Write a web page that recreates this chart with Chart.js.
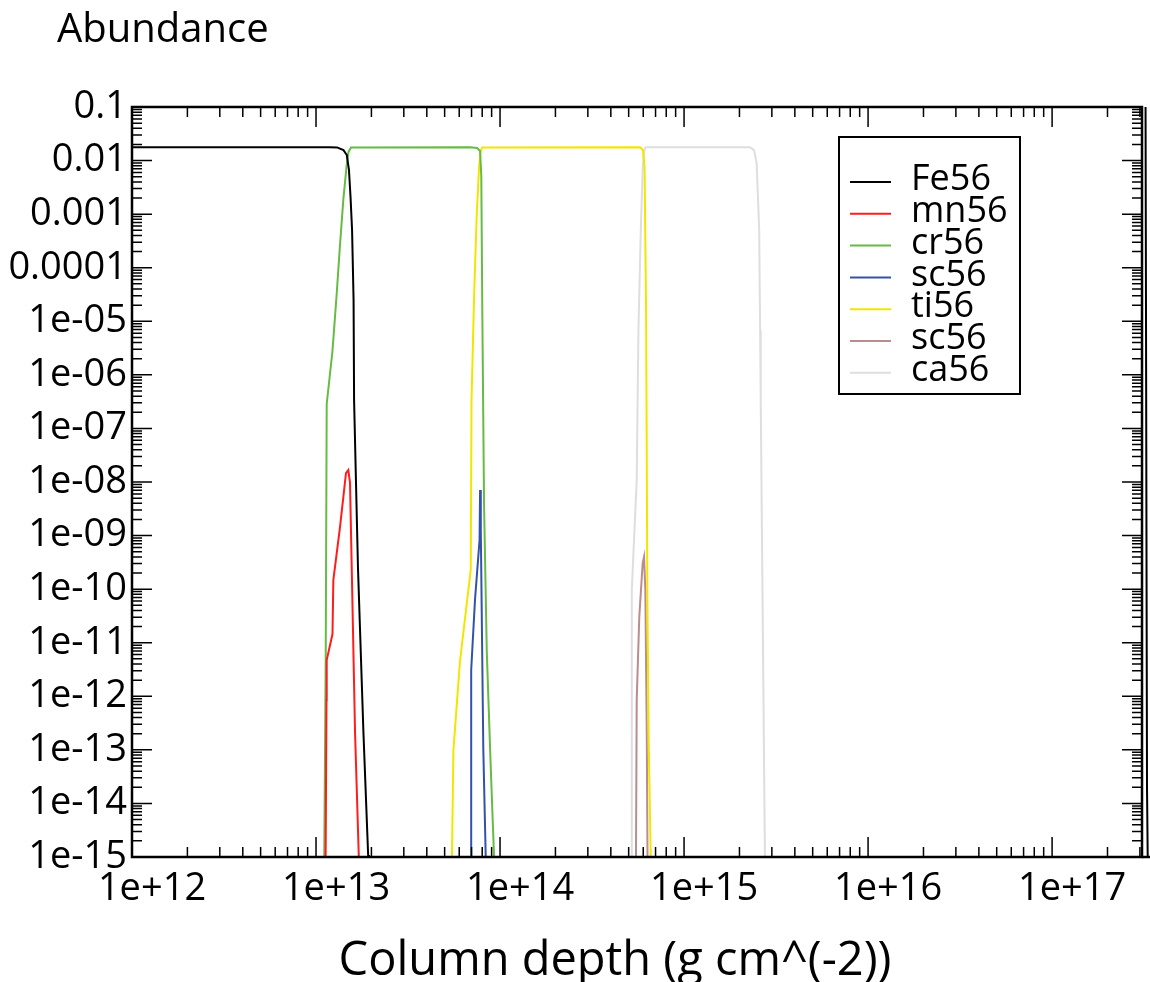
<!DOCTYPE html>
<html>
<head>
<meta charset="utf-8">
<script src="https://cdn.jsdelivr.net/npm/chart.js@4.4.1/dist/chart.umd.min.js"></script>
<style>
  html, body { margin: 0; padding: 0; background: #fff; }
  #wrap { width: 1150px; height: 982px; }
</style>
</head>
<body>
<div id="wrap"><canvas id="abundance" width="1150" height="982"></canvas></div>
<script>
// column depth (g cm^-2) and abundance
const fe56Depth = [1e12, 1.19e13, 1.30e13, 1.41e13, 1.47e13, 1.51e13, 1.54e13, 1.57e13, 1.60e13, 1.61e13, 1.69e13, 1.81e13, 1.92e13, 1.94e13, 3.0e17, 3.33e17, 3.28e17, 3.22e17];
const fe56Abund = [0.0177, 0.0177, 0.0176, 0.0157, 0.0127, 6.7e-3, 2.1e-3, 5.1e-4, 2.5e-5, 3.4e-7, 2.6e-10, 2.1e-13, 1.09e-15, 3.7e-16, 1e-17, 1e-16, 1.8e-14, 0.1];

const mn56Depth = [1.126e13, 1.14e13, 1.143e13, 1.229e13, 1.242e13, 1.35e13, 1.455e13, 1.498e13, 1.53e13, 1.563e13, 1.63e13, 1.707e13, 1.718e13];
const mn56Abund = [3.7e-16, 8.5e-13, 4.75e-12, 1.45e-11, 1.48e-10, 1.44e-9, 1.47e-8, 1.67e-8, 9.6e-9, 2.6e-10, 2.06e-13, 1.09e-15, 3.7e-16];

const cr56Depth = [1.099e13, 1.109e13, 1.129e13, 1.143e13, 1.227e13, 1.253e13, 1.296e13, 1.35e13, 1.407e13, 1.468e13, 1.502e13, 1.549e13, 6.87e13, 7.50e13, 7.79e13, 7.91e13, 8.01e13, 8.19e13, 8.47e13, 8.83e13, 9.13e13, 9.28e13, 9.33e13];
const cr56Abund = [3.7e-16, 1.09e-15, 5.4e-12, 2.86e-7, 2.67e-6, 6.9e-6, 3.37e-5, 2.65e-4, 1.84e-3, 8.3e-3, 0.0145, 0.0176, 0.0177, 0.0172, 0.0151, 5.15e-3, 1.49e-5, 3.56e-9, 7.0e-12, 1.04e-13, 4.5e-15, 1e-15, 3.7e-16];

const sc56Depth = [6.96e13, 6.97e13, 7.31e13, 7.74e13, 7.79e13, 7.86e13, 8.11e13, 8.36e13, 8.39e13];
const sc56Abund = [3.7e-16, 3.1e-12, 6.3e-11, 8.3e-10, 7.1e-9, 1.27e-9, 1.04e-13, 1e-15, 3.7e-16];

const ti56Depth = [5.45e13, 5.48e13, 5.58e13, 6.06e13, 6.93e13, 7.0e13, 7.22e13, 7.47e13, 7.69e13, 7.83e13, 7.98e13, 5.77e14, 5.98e14, 6.10e14, 6.22e14, 6.32e14, 6.43e14, 6.59e14, 6.62e14];
const ti56Abund = [3.7e-16, 1e-15, 9.9e-14, 4.55e-12, 2.28e-10, 3.4e-7, 2.5e-5, 9.6e-4, 7.3e-3, 0.0145, 0.0176, 0.0177, 0.0157, 7.6e-3, 1.49e-5, 6.0e-11, 1.18e-13, 1e-15, 3.7e-16];

// second "sc56" entry of the legend (brown)
const sc56bDepth = [5.47e14, 5.48e14, 5.53e14, 5.71e14, 5.96e14, 6.06e14, 6.16e14, 6.27e14, 6.33e14, 6.35e14];
const sc56bAbund = [3.7e-16, 1e-15, 8.5e-13, 3.0e-11, 3.08e-10, 4.0e-10, 9.6e-11, 2.06e-13, 1e-15, 3.7e-16];

const ca56Depth = [5.12e14, 5.15e14, 5.20e14, 5.53e14, 5.65e14, 5.82e14, 5.96e14, 6.06e14, 6.18e14, 2.28e15, 2.40e15, 2.48e15, 2.56e15, 2.59e15, 2.61e15, 2.75e15, 2.77e15];
const ca56Abund = [3.7e-16, 1e-15, 9.6e-11, 1.09e-8, 6.9e-6, 5.1e-4, 7.3e-3, 0.0145, 0.0177, 0.0177, 0.0157, 9.0e-3, 5.1e-4, 6.9e-6, 3.4e-7, 1.09e-15, 3.7e-16];

const seriesNames = ["Fe56", "mn56", "cr56", "sc56", "ti56", "sc56", "ca56"];

const xTickValues = [1e12, 1e13, 1e14, 1e15, 1e16, 1e17];
const xTickLabels = ["1e+12", "1e+13", "1e+14", "1e+15", "1e+16", "1e+17"];
const yTickValues = [1e-15, 1e-14, 1e-13, 1e-12, 1e-11, 1e-10, 1e-9, 1e-8, 1e-7, 1e-6, 1e-5, 1e-4, 1e-3, 1e-2, 1e-1];
const yTickLabels = ["1e-15", "1e-14", "1e-13", "1e-12", "1e-11", "1e-10", "1e-09", "1e-08", "1e-07", "1e-06", "1e-05", "0.0001", "0.001", "0.01", "0.1"];

const xMin = 1e12, xMax = 3.08e17;
const yMin = 1e-15, yMax = 0.1;

const FONT = '"Open Sans", "Noto Sans", sans-serif';

function pairs(xs, ys) {
  return xs.map((x, i) => ({ x: x, y: ys[i] }));
}

const colors = ["#000000", "#ff1c1c", "#66bb44", "#3352a8", "#f2e600", "#bb8c8c", "#dedede"];
const series = [
  pairs(fe56Depth, fe56Abund),
  pairs(mn56Depth, mn56Abund),
  pairs(cr56Depth, cr56Abund),
  pairs(sc56Depth, sc56Abund),
  pairs(ti56Depth, ti56Abund),
  pairs(sc56bDepth, sc56bAbund),
  pairs(ca56Depth, ca56Abund),
];

// frame + inward log ticks on all four sides
const frameTicks = {
  id: "frameTicks",
  afterDatasetsDraw(chart) {
    const { ctx, chartArea: a, scales } = chart;
    const x = scales.x, y = scales.y;
    ctx.save();
    ctx.strokeStyle = "#000";
    ctx.lineWidth = 1.5;
    ctx.beginPath();
    for (let e = 11; e <= 17; e++) {
      for (let m = 1; m < 10; m++) {
        const px = x.getPixelForValue(m * Math.pow(10, e));
        if (px < a.left - 0.5 || px > a.right + 0.5) continue;
        const len = m === 1 ? 20 : 10;
        ctx.moveTo(px, a.bottom); ctx.lineTo(px, a.bottom - len);
        ctx.moveTo(px, a.top); ctx.lineTo(px, a.top + len);
      }
    }
    for (let e = -15; e <= -1; e++) {
      for (let m = 1; m < 10; m++) {
        const py = y.getPixelForValue(m * Math.pow(10, e));
        if (py < a.top - 0.5 || py > a.bottom + 0.5) continue;
        const len = m === 1 ? 20 : 10;
        ctx.moveTo(a.left, py); ctx.lineTo(a.left + len, py);
        ctx.moveTo(a.right, py); ctx.lineTo(a.right - len, py);
      }
    }
    ctx.stroke();
    ctx.lineWidth = 2.5;
    ctx.strokeRect(a.left, a.top, a.right - a.left, a.bottom - a.top);
    ctx.beginPath();
    ctx.moveTo(a.right, a.bottom); ctx.lineTo(1150, a.bottom);
    ctx.stroke();
    ctx.restore();
  }
};

// boxed legend inside the plot, built from the datasets
const boxLegend = {
  id: "boxLegend",
  afterDraw(chart) {
    const { ctx } = chart;
    ctx.save();
    ctx.lineWidth = 2;
    ctx.strokeStyle = "#000";
    ctx.strokeRect(839, 137, 181, 257);
    ctx.font = "36px " + FONT;
    ctx.textBaseline = "middle";
    ctx.fillStyle = "#000";
    chart.data.datasets.forEach((ds, i) => {
      const yy = 182 + i * 31.8;
      ctx.strokeStyle = ds.borderColor;
      ctx.lineWidth = 2;
      ctx.beginPath();
      ctx.moveTo(850, yy); ctx.lineTo(891, yy);
      ctx.stroke();
      ctx.fillText(ds.label, 911, yy - 2);
    });
    ctx.restore();
  }
};

// axis titles
const titles = {
  id: "titles",
  afterDraw(chart) {
    const { ctx } = chart;
    ctx.save();
    ctx.fillStyle = "#000";
    ctx.textBaseline = "alphabetic";
    ctx.textAlign = "left";
    ctx.font = "40px " + FONT;
    ctx.fillText("Abundance", 57, 42);
    ctx.textAlign = "center";
    ctx.font = "47px " + FONT;
    ctx.fillText("Column depth (g cm^(-2))", 615, 975);
    ctx.restore();
  }
};

new Chart(document.getElementById("abundance"), {
  type: "line",
  data: {
    datasets: series.map((d, i) => ({
      label: seriesNames[i],
      data: d,
      borderColor: colors[i],
      backgroundColor: colors[i],
      borderWidth: 2,
      pointRadius: 0,
      tension: 0,
      fill: false,
      clip: i === 0 ? { left: 0, top: 0, right: 8, bottom: 0 } : 0,
    })),
  },
  options: {
    responsive: false,
    devicePixelRatio: 1,
    animation: false,
    events: [],
    layout: { padding: { top: 107, right: 8, left: 0, bottom: 0 } },
    plugins: {
      legend: { display: false },
      tooltip: { enabled: false },
      title: { display: false },
    },
    scales: {
      x: {
        type: "logarithmic",
        min: xMin,
        max: xMax,
        grid: { display: false, drawTicks: false },
        border: { display: false },
        afterBuildTicks: (s) => { s.ticks = xTickValues.map((v) => ({ value: v })); },
        afterFit: (s) => { s.height = 125; },
        ticks: {
          autoSkip: false,
          maxRotation: 0,
          padding: 9,
          labelOffset: 20,
          color: "#000",
          font: { family: FONT, size: 38 },
          callback: (v, i) => xTickLabels[i],
        },
      },
      y: {
        type: "logarithmic",
        min: yMin,
        max: yMax,
        grid: { display: false, drawTicks: false },
        border: { display: false },
        afterBuildTicks: (s) => { s.ticks = yTickValues.map((v) => ({ value: v })); },
        afterFit: (s) => { s.width = 132; },
        ticks: {
          autoSkip: false,
          padding: 5,
          color: "#000",
          font: { family: FONT, size: 38 },
          callback: (v, i) => yTickLabels[i],
        },
      },
    },
  },
  plugins: [frameTicks, boxLegend, titles],
});
</script>
</body>
</html>
